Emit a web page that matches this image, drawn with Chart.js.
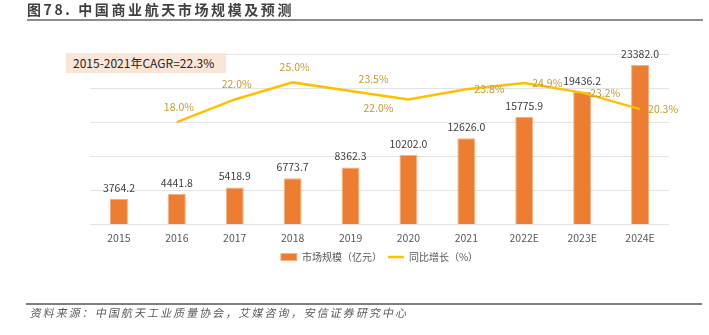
<!DOCTYPE html>
<html>
<head>
<meta charset="utf-8">
<script src="https://cdn.jsdelivr.net/npm/chart.js@4"></script>
<style>
  body { margin: 0; background: #fff; font-family: "Noto Sans CJK SC", sans-serif; }
  #wrap { position: relative; width: 709px; height: 335px; overflow: hidden; }
  #chart { position: absolute; left: 0; top: 0; }
  .title { position: absolute; left: 27px; top: 0px; font-size: 14px; font-weight: bold; color: #404040; letter-spacing: 2.6px; line-height: 19px; white-space: nowrap; }
  .rule-top { position: absolute; left: 27px; top: 19px; width: 676px; height: 2px; background: #8c8c8c; }
  .cagr { position: absolute; left: 66px; top: 53px; width: 160px; height: 20px; background: #fbe5d6; font-size: 12px; color: #262626; line-height: 20px; padding-left: 7px; box-sizing: border-box; white-space: nowrap; }
  .rule-bottom { position: absolute; left: 26px; top: 303px; width: 676px; height: 1.5px; background: #7f7f7f; }
  .source { position: absolute; left: 29px; top: 304px; font-size: 11px; color: #5a5a5a; letter-spacing: 2.05px; line-height: 16px; white-space: nowrap; transform: skewX(-12deg); transform-origin: left bottom; }
</style>
</head>
<body>
<div id="wrap">
  <canvas id="chart" width="709" height="335"></canvas>
  <div class="title">图78. 中国商业航天市场规模及预测</div>
  <div class="rule-top"></div>
  <div class="cagr">2015-2021年CAGR=22.3%</div>
  <div class="rule-bottom"></div>
  <div class="source">资料来源：中国航天工业质量协会，艾媒咨询，安信证券研究中心</div>
</div>
<script>
const years = ["2015", "2016", "2017", "2018", "2019", "2020", "2021", "2022E", "2023E", "2024E"];
const marketSize = [3764.2, 4441.8, 5418.9, 6773.7, 8362.3, 10202.0, 12626.0, 15775.9, 19436.2, 23382.0];
const growth = [null, 18.0, 22.0, 25.0, 23.5, 22.0, 23.8, 24.9, 23.2, 20.3];

// where each growth label sits relative to its point
const growthAlign = [null, "top", "top", "top", "topRight", "bottomLeft", "right", "right", "right", "right"];

const FONT = '"Noto Sans CJK SC", sans-serif';

const valueLabels = {
  id: "valueLabels",
  afterDatasetsDraw(chart) {
    const ctx = chart.ctx;
    ctx.save();
    ctx.font = "10.5px " + FONT;
    ctx.textBaseline = "middle";

    ctx.fillStyle = "#404040";
    ctx.textAlign = "center";
    chart.getDatasetMeta(0).data.forEach((bar, i) => {
      ctx.fillText(marketSize[i].toFixed(1), bar.x, bar.y - 11);
    });

    ctx.fillStyle = "#c49a2c";
    chart.getDatasetMeta(1).data.forEach((pt, i) => {
      if (growth[i] == null) return;
      const txt = growth[i].toFixed(1) + "%";
      const a = growthAlign[i];
      if (a === "top") {
        ctx.textAlign = "center";
        ctx.fillText(txt, pt.x + 2, pt.y - 15);
      } else if (a === "topRight") {
        ctx.textAlign = "left";
        ctx.fillText(txt, pt.x + 8, pt.y - 12);
      } else if (a === "bottomLeft") {
        ctx.textAlign = "right";
        ctx.fillText(txt, pt.x - 15, pt.y + 9);
      } else {
        ctx.textAlign = "left";
        ctx.fillText(txt, pt.x + 8, pt.y);
      }
    });
    ctx.restore();
  }
};

new Chart(document.getElementById("chart"), {
  type: "bar",
  data: {
    labels: years,
    datasets: [
      {
        type: "bar",
        label: "市场规模（亿元）",
        data: marketSize,
        backgroundColor: "#ed7d31",
        borderColor: "#f5b084",
        borderWidth: 1,
        barPercentage: 0.31,
        categoryPercentage: 1,
        pointStyle: "rect",
        yAxisID: "y",
        order: 1
      },
      {
        type: "line",
        label: "同比增长（%）",
        data: growth,
        borderColor: "#ffc000",
        backgroundColor: "#ffc000",
        borderWidth: 2.5,
        pointRadius: 0,
        pointStyle: "line",
        tension: 0,
        yAxisID: "y1",
        order: 0
      }
    ]
  },
  options: {
    responsive: false,
    animation: false,
    layout: { padding: { left: 90, right: 40, top: 54, bottom: 63 } },
    plugins: {
      tooltip: { enabled: false },
      legend: {
        position: "bottom",
        labels: {
          usePointStyle: true,
          pointStyleWidth: 16,
          boxHeight: 7,
          padding: 6,
          color: "#595959",
          font: { family: FONT, size: 10 },
          sort: (a, b) => a.datasetIndex - b.datasetIndex
        }
      }
    },
    scales: {
      x: {
        grid: { display: false, drawTicks: false },
        border: { display: false },
        ticks: { color: "#595959", font: { family: FONT, size: 10.5 }, padding: 7 },
        afterFit: (axis) => { axis.height -= 5; }
      },
      y: {
        min: 0,
        max: 25000,
        ticks: { display: false, stepSize: 5000 },
        grid: { color: "#e4e4e4", drawTicks: false },
        border: { display: false }
      },
      y1: {
        min: 0,
        max: 30,
        display: false
      }
    }
  },
  plugins: [valueLabels]
});
</script>
</body>
</html>
